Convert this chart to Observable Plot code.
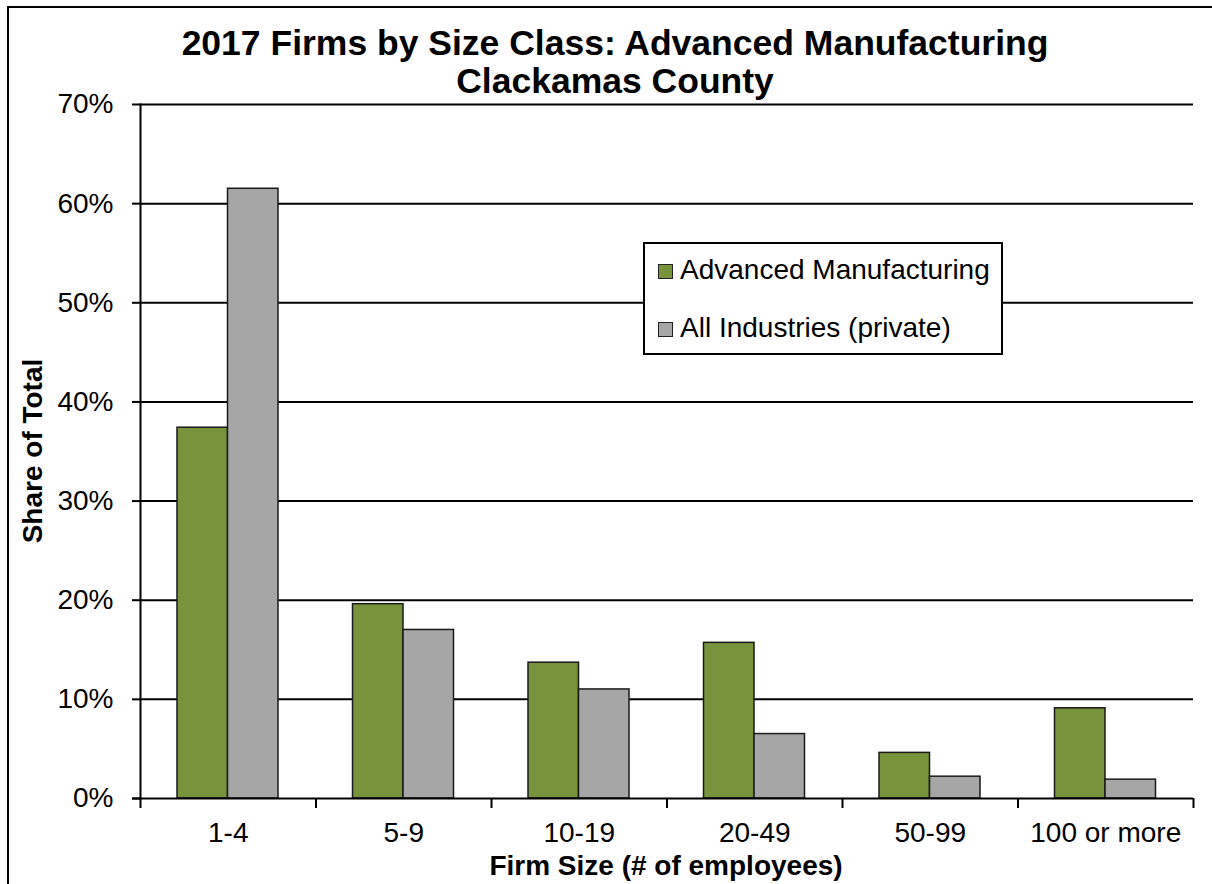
<!DOCTYPE html>
<html>
<head>
<meta charset="utf-8">
<script src="https://cdn.jsdelivr.net/npm/d3@7"></script>
<script src="https://cdn.jsdelivr.net/npm/@observablehq/plot@0.6"></script>
<style>
  body { margin: 0; background: #fff; font-family: Arial, "Liberation Sans", sans-serif; }
  #wrap { position: relative; width: 1212px; height: 884px; overflow: hidden; background: #fff; }
  #wrap svg { position: absolute; left: 0; top: 0; }
  #border { position: absolute; left: 7px; top: 6px; width: 1400px; height: 1000px;
            border-left: 2px solid #000; border-top: 2px solid #000; }
  #title { position: absolute; left: 0; top: 24px; width: 1230px; text-align: center;
           font-weight: bold; font-size: 35.5px; line-height: 38px; color: #000; }
  #xlabel { position: absolute; left: 366px; width: 600px; top: 852px; text-align: center;
            font-weight: bold; font-size: 28px; line-height: 28px; color: #000; }
  #ylabel { position: absolute; left: -167px; width: 400px; top: 437px; height: 28px; text-align: center;
            font-weight: bold; font-size: 28px; line-height: 28px; color: #000; transform: rotate(-90deg); }
  #legend { position: absolute; left: 643px; top: 242px; width: 360px; height: 113px; box-sizing: border-box;
            border: 2px solid #000; background: #fff; }
  .sw { position: absolute; width: 15px; height: 15px; box-sizing: border-box; border: 1.5px solid #222; }
  .lt { position: absolute; font-size: 28px; line-height: 28px; white-space: nowrap; color: #000; }
</style>
</head>
<body>
<div id="wrap">
  <div id="border"></div>
  <div id="title">2017 Firms by Size Class: Advanced Manufacturing<br>Clackamas County</div>
  <div id="ylabel">Share of Total</div>
  <div id="xlabel">Firm Size (# of employees)</div>
</div>
<script>
// ---- data ----
const categories = ["1-4", "5-9", "10-19", "20-49", "50-99", "100 or more"];
const seriesNames = ["Advanced Manufacturing", "All Industries (private)"];
const advancedManufacturing = [0.374, 0.196, 0.137, 0.157, 0.046, 0.091];
const allIndustries = [0.615, 0.170, 0.110, 0.065, 0.022, 0.019];
const yTicks = [0, 0.1, 0.2, 0.3, 0.4, 0.5, 0.6, 0.7];
const seriesColors = ["#77933C", "#A6A6A6"];

// ---- layout ----
const W = 1212, H = 884, mL = 140, mR = 19, mT = 104, mB = 86;
const bw = (W - mL - mR) / categories.length;
const barW = 50.5, outerGap = 37;

const rows = [];
categories.forEach((c, i) => {
  rows.push({cat: c, series: seriesNames[0], value: advancedManufacturing[i]});
  rows.push({cat: c, series: seriesNames[1], value: allIndustries[i]});
});

const plot = Plot.plot({
  width: W, height: H,
  marginLeft: mL, marginRight: mR, marginTop: mT, marginBottom: mB,
  style: {fontFamily: "Arial, 'Liberation Sans', sans-serif", fontSize: "28px", color: "#000", background: "transparent"},
  x: {domain: categories, padding: 0, round: false, label: null},
  y: {domain: [0, 0.7], label: null},
  marks: [
    Plot.ruleY(yTicks.slice(1), {stroke: "#000", strokeWidth: 2}),
    Plot.barY(rows.filter(d => d.series === seriesNames[0]), {
      x: "cat", y: "value", fill: seriesColors[0], stroke: "#1a1a1a", strokeWidth: 1.5,
      insetLeft: outerGap, insetRight: bw - outerGap - barW
    }),
    Plot.barY(rows.filter(d => d.series === seriesNames[1]), {
      x: "cat", y: "value", fill: seriesColors[1], stroke: "#1a1a1a", strokeWidth: 1.5,
      insetLeft: outerGap + barW, insetRight: bw - outerGap - 2 * barW
    }),
    Plot.ruleY([0], {stroke: "#000", strokeWidth: 2, insetLeft: -8}),
    Plot.frame({anchor: "left", stroke: "#000", strokeWidth: 2}),
    Plot.ruleX(categories, {x: d => d, dx: -bw / 2, y1: 0, y2: 0, insetBottom: -10, stroke: "#000", strokeWidth: 2}),
    Plot.ruleX([categories[categories.length - 1]], {x: d => d, dx: bw / 2, y1: 0, y2: 0, insetBottom: -10, stroke: "#000", strokeWidth: 2}),
    Plot.axisY({ticks: yTicks, tickSize: 8, tickPadding: 19, strokeWidth: 2,
      tickFormat: d => Math.round(d * 100) + "%", fontSize: 28, label: null}),
    Plot.axisX({tickSize: 0, tickPadding: 24, fontSize: 28, label: null})
  ]
});

const wrap = document.getElementById("wrap");
wrap.insertBefore(plot, wrap.firstChild);

// ---- legend ----
const legend = document.createElement("div");
legend.id = "legend";
wrap.appendChild(legend);
const rowTops = [256, 314];
seriesNames.forEach((name, i) => {
  const sw = document.createElement("div");
  sw.className = "sw";
  sw.style.left = "658px";
  sw.style.top = (rowTops[i] + 8) + "px";
  sw.style.background = seriesColors[i];
  wrap.appendChild(sw);
  const t = document.createElement("div");
  t.className = "lt";
  t.style.left = "680px";
  t.style.top = rowTops[i] + "px";
  t.textContent = name;
  wrap.appendChild(t);
});
</script>
</body>
</html>
